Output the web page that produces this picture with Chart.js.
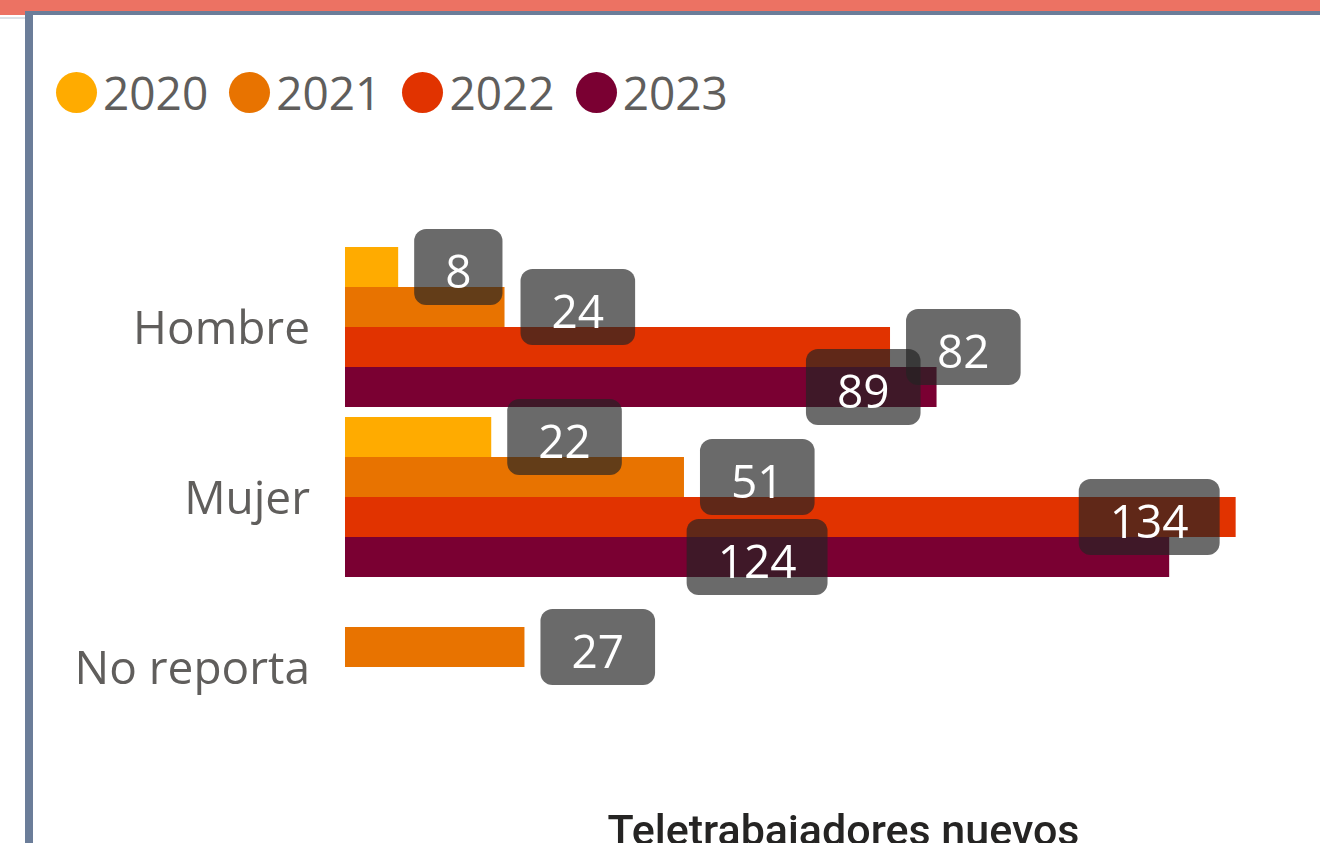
<!DOCTYPE html>
<html>
<head>
<meta charset="utf-8">
<title>Teletrabajadores nuevos</title>
<script src="https://cdn.jsdelivr.net/npm/chart.js@4.4.1/dist/chart.umd.min.js"></script>
<style>
  html, body { margin: 0; padding: 0; width: 1320px; height: 843px; overflow: hidden; background: #fff; }
  body { position: relative; font-family: "Open Sans", sans-serif; }
  .top-bar { position: absolute; left: 0; top: 0; width: 1320px; height: 11px; background: #EC7263; }
  .top-left { position: absolute; left: 0; top: 0; width: 25px; height: 15px; background: #EC7263; }
  .left-rule { position: absolute; left: 0; top: 17px; width: 25px; height: 2px; background: #dde1e6; }
  .frame-top { position: absolute; left: 25px; top: 11px; width: 1295px; height: 4px; background: #6B7D99; }
  .frame-left { position: absolute; left: 25px; top: 11px; width: 8px; height: 832px; background: #6B7D99; }
  #legend { position: absolute; left: 56px; top: 72px; display: flex; align-items: center; height: 41px; }
  #legend .item { display: flex; align-items: center; margin-right: 21px; }
  #legend .dot { width: 41px; height: 41px; border-radius: 50%; margin-right: 6px; }
  #legend .txt { font-size: 46px; line-height: 41px; color: #605E5C; }
  .chart-box { position: absolute; left: 33px; top: 15px; width: 1400px; height: 870px; }
</style>
</head>
<body>
<div class="top-bar"></div>
<div class="top-left"></div>
<div class="left-rule"></div>
<div class="frame-top"></div>
<div class="frame-left"></div>
<div id="legend"></div>
<div class="chart-box"><canvas id="chart" width="1400" height="870"></canvas></div>

<script>
// data
const categories = ["Hombre", "Mujer", "No reporta"];
const years = ["2020", "2021", "2022", "2023"];
const values2020 = [8, 22, null];
const values2021 = [24, 51, 27];
const values2022 = [82, 134, null];
const values2023 = [89, 124, null];
const yearColors = ["#FFAB00", "#E87300", "#E13300", "#7A0032"];
const axisMax = 150;

const seriesValues = [values2020, values2021, values2022, values2023];

// legend (html, same look as the report)
const legendEl = document.getElementById("legend");
years.forEach((y, i) => {
  const item = document.createElement("span");
  item.className = "item";
  item.innerHTML = '<span class="dot" style="background:' + yearColors[i] + '"></span><span class="txt">' + y + "</span>";
  legendEl.appendChild(item);
});

// value labels in grey rounded boxes, moved when they would collide
const labelBoxes = {
  id: "labelBoxes",
  afterDatasetsDraw(chart) {
    const { ctx, chartArea } = chart;
    const padX = 31, boxH = 76, gap = 16, inset = 12, radius = 12;
    const placed = [];
    ctx.save();
    ctx.font = '46px "Open Sans"';
    chart.data.datasets.forEach((ds, di) => {
      const meta = chart.getDatasetMeta(di);
      meta.data.forEach((bar, i) => {
        const v = ds.data[i];
        if (v == null) return;
        const text = String(v);
        const w = ctx.measureText(text).width + padX * 2;
        const end = bar.x, base = bar.base, cy = bar.y;
        // outside end, inside end, centre
        const tries = [end + gap, end - gap - w, (base + end) / 2 - w / 2];
        let left = tries[tries.length - 1];
        for (const c of tries) {
          if (c + w > chartArea.right || c < base) continue;
          const r = { l: c + inset, r: c + w - inset, t: cy - boxH / 2, b: cy + boxH / 2 };
          const hit = placed.some(p => r.l < p.r && r.r > p.l && r.t < p.b && r.b > p.t);
          if (hit) continue;
          left = c;
          break;
        }
        placed.push({ l: left + inset, r: left + w - inset, t: cy - boxH / 2, b: cy + boxH / 2 });

        ctx.fillStyle = "rgba(36,36,36,0.68)";
        ctx.beginPath();
        ctx.roundRect(left, cy - boxH / 2, w, boxH, radius);
        ctx.fill();

        ctx.fillStyle = "#ffffff";
        ctx.textAlign = "center";
        ctx.textBaseline = "alphabetic";
        ctx.fillText(text, left + w / 2, cy + 21);
      });
    });
    ctx.restore();
  }
};

new Chart(document.getElementById("chart"), {
  type: "bar",
  data: {
    labels: categories,
    datasets: years.map((y, i) => ({
      label: y,
      data: seriesValues[i],
      backgroundColor: yearColors[i],
      borderWidth: 0,
      categoryPercentage: 160 / 170,
      barPercentage: 1,
    })),
  },
  options: {
    indexAxis: "y",
    responsive: false,
    animation: false,
    layout: { padding: { top: 227, right: 91, left: 0, bottom: 0 } },
    plugins: {
      legend: { display: false },
      tooltip: { enabled: false },
    },
    scales: {
      x: {
        min: 0,
        max: axisMax,
        grid: { display: false, drawTicks: false },
        border: { display: false },
        ticks: { display: false },
        title: {
          display: true,
          text: "Teletrabajadores nuevos",
          color: "#252423",
          font: { family: "Roboto", size: 43, weight: "500" },
          padding: { top: 0, bottom: 25 },
        },
        afterFit: (scale) => { scale.height = 133; },
      },
      y: {
        grid: { display: false, drawTicks: false },
        border: { display: false },
        ticks: {
          color: "#605E5C",
          padding: 35,
          labelOffset: 4,
          font: { family: "Open Sans", size: 46 },
        },
        afterFit: (scale) => { scale.width = 312; },
      },
    },
  },
  plugins: [labelBoxes],
});
</script>
</body>
</html>
